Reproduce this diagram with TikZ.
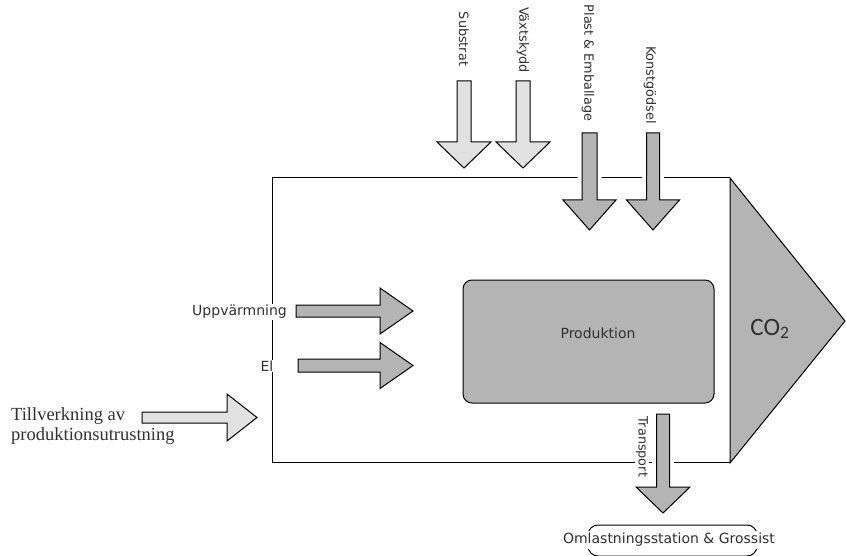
\documentclass[tikz,border=0pt]{standalone}
\usepackage{fontspec}
\setmainfont{DejaVu Sans}
\newfontfamily\serifstil{Liberation Serif}
\newfontfamily\calstil{Carlito}
\usetikzlibrary{positioning}

\definecolor{ljusgra}{HTML}{E1E1E1}
\definecolor{morkgra}{HTML}{B4B4B4}
\definecolor{textgra}{HTML}{303030}

\tikzset{
	ram/.style = {draw = black, line width = 1pt},
	ljuspil/.style = {draw = black, fill = ljusgra, line width = 1pt, line join = miter},
	morkpil/.style = {draw = black, fill = morkgra, line width = 1pt, line join = miter,
		preaction = {draw = white, line width = 9pt}},
	etikett/.style = {fill = white, inner sep = 1pt, text = textgra, font = \fontsize{14}{16}\selectfont},
	standing/.style = {etikett, rotate = -90, font = \fontsize{12.8}{15}\selectfont}
}

% pil nedat: stil, x, topp, huvud, spets, halv skaft, halvt huvud
\newcommand\pilned[7]{\draw [#1] (#2-#6, #3) -- (#2+#6, #3) -- (#2+#6, #4) -- (#2+#7, #4) -- (#2, #5) -- (#2-#7, #4) -- (#2-#6, #4) -- cycle;}
% pil at hoger: stil, y, vanster, huvud, spets, halv skaft, halvt huvud
\newcommand\pilhoger[7]{\draw [#1] (#3, #2-#6) -- (#4, #2-#6) -- (#4, #2-#7) -- (#5, #2) -- (#4, #2+#7) -- (#4, #2+#6) -- (#3, #2+#6) -- cycle;}

\begin{document}
\begin{tikzpicture}[x = 1pt, y = -1pt]
	\useasboundingbox (0, 0) rectangle (846, 556);

	% systemgrans och utslapp
	\draw [ram] (730, 178) -- (272, 178) -- (272, 462) -- (730, 462);
	\draw [ram, fill = morkgra, line join = miter] (730, 178) -- (845, 321) -- (730, 463) -- cycle;
	\node [font = \calstil\fontsize{25}{30}\selectfont, text = textgra] (co2) at (770, 329) {CO\textsubscript{2}};

	\node [ram, fill = morkgra, rounded corners = 9pt, minimum width = 251pt, minimum height = 123pt] (produktion) at (588.5, 341.5) {};
	\node [font = \fontsize{14}{16}\selectfont, text = textgra] (produktionstext) at (598, 333) {Produktion};

	% insatsvaror
	\pilned{ljuspil}{464}{81}{142}{168}{7}{27}
	\pilned{ljuspil}{523}{81}{142}{168}{7}{27}
	\pilned{morkpil}{589.5}{133}{200}{230}{7.5}{26.5}
	\pilned{morkpil}{653}{133}{200}{230}{6.5}{26.5}
	\pilned{morkpil}{663}{414}{487}{513}{6.5}{27}

	\pilhoger{morkpil}{311}{296}{380}{413}{6}{23}
	\pilhoger{morkpil}{365.5}{298}{380}{413}{6.5}{23}
	\pilhoger{ljuspil}{417.5}{142}{227}{257}{5.5}{23.5}

	\node [standing] (substrat) at (464, 39) {Substrat};
	\node [standing] (vaxtskydd) at (523, 40) {Växtskydd};
	\node [standing] (plast) at (588, 63) {Plast \& Emballage};
	\node [standing] (konstgodsel) at (650, 85) {Konstgödsel};
	\node [standing] (transport) at (642, 447) {Transport};

	\node [etikett, anchor = east] (uppvarmning) at (288, 312) {Uppvärmning};
	\node [etikett] (el) at (267, 366) {El};

	\node [anchor = west, align = left, inner sep = 0pt, text = textgra, font = \serifstil\fontsize{18.5}{20}\selectfont] (tillverkning) at (11, 426) {Tillverkning av\\produktionsutrustning};

	% mottagare
	\draw [ram, rounded corners = 10pt] (588, 525) rectangle (757, 556);
	\node [etikett, inner ysep = 2pt] (omlastning) at (669, 540) {Omlastningsstation \& Grossist};
\end{tikzpicture}
\end{document}
